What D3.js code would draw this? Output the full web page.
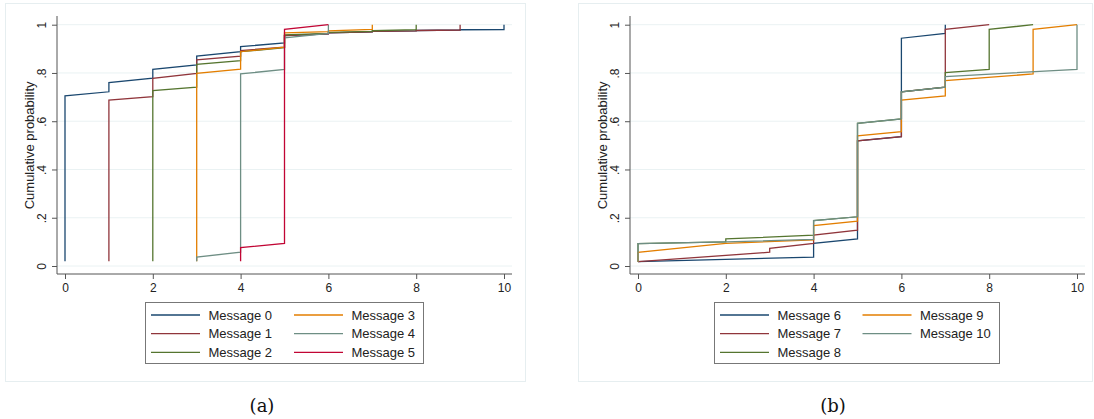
<!DOCTYPE html>
<html>
<head>
<meta charset="utf-8">
<script src="https://cdn.jsdelivr.net/npm/d3@7/dist/d3.min.js"></script>
<style>
    body { margin: 0; background: #fff; }
    svg { display: block; font-family: "Liberation Sans", Arial, sans-serif; }
</style>
</head>
<body>
<svg id="chart" width="1094" height="419"></svg>
<script>
// each step: [x, cumulative prob at first obs, cumulative prob at last obs]
const message0 = [[0, 0.02, 0.705], [1, 0.722, 0.760], [2, 0.778, 0.815], [3, 0.833, 0.870], [4, 0.888, 0.909],
    [5, 0.925, 0.955], [6, 0.962, 0.966], [7, 0.970, 0.972], [8, 0.974, 0.976], [9, 0.978, 0.979], [10, 0.980, 1.0]];
const message1 = [[1, 0.02, 0.688], [2, 0.702, 0.778], [3, 0.798, 0.854], [4, 0.870, 0.893], [5, 0.907, 0.955],
    [6, 0.962, 0.966], [7, 0.970, 0.972], [8, 0.974, 0.976], [9, 0.978, 1.0]];
const message2 = [[2, 0.02, 0.727], [3, 0.741, 0.836], [4, 0.851, 0.888], [5, 0.905, 0.958], [6, 0.964, 0.968],
    [7, 0.972, 0.975], [8, 0.980, 1.0]];
const message3 = [[3, 0.02, 0.798], [4, 0.816, 0.888], [5, 0.907, 0.966], [6, 0.971, 0.974], [7, 0.981, 1.0]];
const message4 = [[3, 0.02, 0.037], [4, 0.057, 0.796], [5, 0.815, 0.946], [6, 0.964, 1.0]];
const message5 = [[4, 0.02, 0.076], [5, 0.094, 0.981], [6, 1.0, 1.0]];

const message6 = [[0, 0.018, 0.018], [4, 0.037, 0.094], [5, 0.112, 0.519], [6, 0.536, 0.944], [7, 0.964, 1.0]];
const message7 = [[0, 0.018, 0.018], [3, 0.057, 0.073], [4, 0.094, 0.128], [5, 0.149, 0.519], [6, 0.536, 0.722],
    [7, 0.741, 0.981], [8, 1.0, 1.0]];
const message8 = [[0, 0.018, 0.093], [2, 0.100, 0.112], [4, 0.128, 0.188], [5, 0.204, 0.591], [6, 0.610, 0.722],
    [7, 0.741, 0.801], [8, 0.815, 0.981], [9, 1.0, 1.0]];
const message9 = [[0, 0.018, 0.057], [2, 0.094, 0.094], [4, 0.108, 0.167], [5, 0.186, 0.539], [6, 0.557, 0.688],
    [7, 0.705, 0.768], [9, 0.796, 0.981], [10, 1.0, 1.0]];
const message10 = [[0, 0.018, 0.093], [2, 0.100, 0.100], [4, 0.110, 0.188], [5, 0.204, 0.591], [6, 0.610, 0.722],
    [7, 0.741, 0.785], [10, 0.815, 1.0]];

const namesA = ['Message 0', 'Message 1', 'Message 2', 'Message 3', 'Message 4', 'Message 5'];
const namesB = ['Message 6', 'Message 7', 'Message 8', 'Message 9', 'Message 10'];
const xTicks = [0, 2, 4, 6, 8, 10];
const yTicks = [0, 0.2, 0.4, 0.6, 0.8, 1];
const yTickLabels = ['0', '.2', '.4', '.6', '.8', '1'];

// stata s2color
const colors = ['#1a476f', '#90353b', '#55752f', '#e37e00', '#6e8e84', '#c10534'];

const svg = d3.select('#chart');

function drawPanel(left, series, names, caption) {
    const g = svg.append('g').attr('transform', `translate(${left},0)`);

    // graph region frame
    g.append('rect')
        .attr('x', 0.5).attr('y', 3.5)
        .attr('width', left < 100 ? 520 : 514)
        .attr('height', 378)
        .attr('fill', '#fff')
        .attr('stroke', '#e6eef0');

    const x = d3.scaleLinear().domain([0, 10]).range([60, 499]);
    const y = d3.scaleLinear().domain([0, 1]).range([266, 24.7]);
    const plotL = 52, plotR = 507, plotT = 16, plotB = 274;

    // gridlines
    g.append('g').selectAll('line').data(yTicks).join('line')
        .attr('x1', plotL).attr('x2', plotR)
        .attr('y1', d => y(d)).attr('y2', d => y(d))
        .attr('stroke', '#eaf2f3').attr('stroke-width', 1);

    // y axis
    const yAxis = g.append('g')
        .attr('transform', `translate(${plotL},0)`)
        .call(d3.axisLeft(y).tickValues(yTicks).tickSize(5).tickFormat((d, i) => yTickLabels[i]));
    yAxis.select('.domain').attr('d', `M0,${plotT}V${plotB}`).attr('stroke', '#555');
    yAxis.selectAll('.tick line').attr('stroke', '#555');
    yAxis.selectAll('.tick text')
        .attr('x', 0).attr('dy', null)
        .attr('transform', 'translate(-15,0) rotate(-90)')
        .attr('text-anchor', 'middle')
        .attr('dominant-baseline', 'central')
        .attr('font-size', 12)
        .attr('font-family', '"Liberation Sans", Arial, sans-serif')
        .attr('fill', '#222');

    // x axis
    const xAxis = g.append('g')
        .attr('transform', `translate(0,${plotB})`)
        .call(d3.axisBottom(x).tickValues(xTicks).tickSize(5).tickFormat(d3.format('d')));
    xAxis.select('.domain').attr('d', `M${plotL},0H${plotR}`).attr('stroke', '#555');
    xAxis.selectAll('.tick line').attr('stroke', '#555');
    xAxis.selectAll('.tick text')
        .attr('y', 9)
        .attr('font-size', 12)
        .attr('font-family', '"Liberation Sans", Arial, sans-serif')
        .attr('fill', '#222');

    g.append('text')
        .attr('transform', `translate(24,${(y(0) + y(1)) / 2}) rotate(-90)`)
        .attr('text-anchor', 'middle')
        .attr('dominant-baseline', 'central')
        .attr('font-size', 13)
        .attr('fill', '#222')
        .text('Cumulative probability');

    // cumulative lines: vertical run at each x, then straight on to the next x
    const line = d3.line().x(d => x(d[0])).y(d => y(d[1]));
    series.forEach((steps, i) => {
        const pts = [];
        steps.forEach(s => {
            pts.push([s[0], s[1]]);
            if (s[2] !== s[1]) pts.push([s[0], s[2]]);
        });
        g.append('path')
            .datum(pts)
            .attr('d', line)
            .attr('fill', 'none')
            .attr('stroke', colors[i])
            .attr('stroke-width', 1.3)
            .attr('stroke-linejoin', 'miter');
    });

    // legend, 3 rows filled column by column
    const wide = names.length === 6;
    const legX = wide ? 140.5 : 136.5;
    const legW = wide ? 278 : 285;
    const colW = wide ? 143 : 142.5;
    const lg = g.append('g');
    lg.append('rect')
        .attr('x', legX).attr('y', 302.5)
        .attr('width', legW).attr('height', 61)
        .attr('fill', '#fff')
        .attr('stroke', '#777');
    names.forEach((name, i) => {
        const col = Math.floor(i / 3), row = i % 3;
        const lx = legX + 5.5 + col * colW;
        const ly = 315 + row * 18.7;
        lg.append('line')
            .attr('x1', lx).attr('x2', lx + 49)
            .attr('y1', ly).attr('y2', ly)
            .attr('stroke', colors[i])
            .attr('stroke-width', 1.3);
        lg.append('text')
            .attr('x', lx + 57.5).attr('y', ly)
            .attr('dominant-baseline', 'central')
            .attr('font-size', 13)
            .attr('fill', '#222')
            .text(name);
    });

    svg.append('text')
        .attr('x', left + (wide ? 257 : 255))
        .attr('y', 405)
        .attr('text-anchor', 'middle')
        .attr('dominant-baseline', 'central')
        .attr('font-family', '"DejaVu Serif", "Liberation Serif", serif')
        .attr('font-size', 18)
        .attr('fill', '#111')
        .text(caption);
}

drawPanel(5, [message0, message1, message2, message3, message4, message5], namesA, '(a)');
drawPanel(578, [message6, message7, message8, message9, message10], namesB, '(b)');
</script>
</body>
</html>
